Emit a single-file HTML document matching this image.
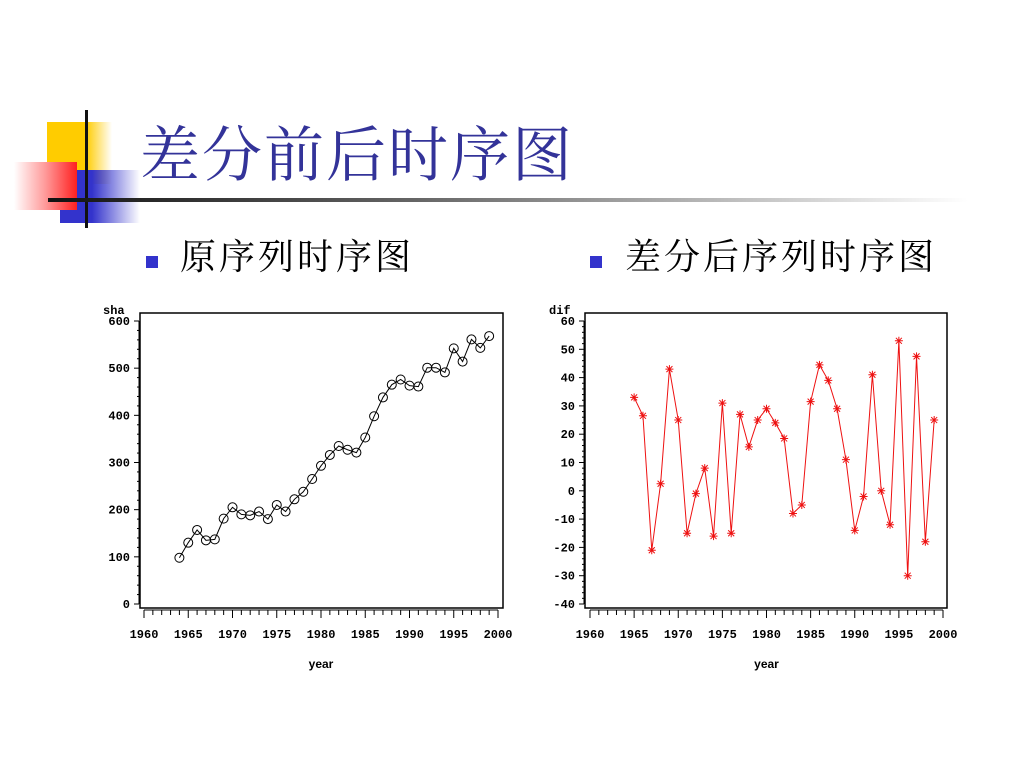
<!DOCTYPE html>
<html><head><meta charset="utf-8">
<style>
body{margin:0;width:1024px;height:768px;background:#fff;overflow:hidden;position:relative;font-family:"Liberation Sans","Noto Serif CJK SC",serif}
.abs{position:absolute}
</style></head><body>
<div class="abs" style="left:47px;top:122px;width:65px;height:62px;background:linear-gradient(90deg,#ffcc00 60%,#fff)"></div>
<div class="abs" style="left:60px;top:170px;width:80px;height:53px;background:linear-gradient(90deg,#3333cc 40%,rgba(51,51,204,0))"></div>
<div class="abs" style="left:14px;top:162px;width:63px;height:48px;background:linear-gradient(90deg,#fff 0%,#ff9999 50%,#ff2020 100%)"></div>
<div class="abs" style="left:85px;top:110px;width:3px;height:118px;background:#111"></div>
<div class="abs" style="left:48px;top:198px;width:920px;height:4px;background:linear-gradient(90deg,#111,#666 40%,#fff)"></div>
<div class="abs" style="left:140px;top:116px;font-size:60px;letter-spacing:2px;color:#333399;font-family:'Liberation Serif','Noto Serif CJK SC',serif;line-height:80px;white-space:nowrap">差分前后时序图</div>
<div class="abs" style="left:146px;top:256px;width:12px;height:12px;background:#3333cc"></div>
<div class="abs" style="left:180px;top:234px;font-size:36px;letter-spacing:3px;line-height:46px;white-space:nowrap;font-family:'Liberation Serif','Noto Serif CJK SC',serif">原序列时序图</div>
<div class="abs" style="left:590px;top:256px;width:12px;height:12px;background:#3333cc"></div>
<div class="abs" style="left:625px;top:234px;font-size:36px;letter-spacing:3px;line-height:46px;white-space:nowrap;font-family:'Liberation Serif','Noto Serif CJK SC',serif">差分后序列时序图</div>
<svg class="abs" style="left:0;top:0" width="1024" height="768" id="svg"></svg>
<script>
const years1=[1964,1965,1966,1967,1968,1969,1970,1971,1972,1973,1974,1975,1976,1977,1978,1979,1980,1981,1982,1983,1984,1985,1986,1987,1988,1989,1990,1991,1992,1993,1994,1995,1996,1997,1998,1999];
const sha=[98,130,157,135,137,181,205,190,188,196,180,210,196,222,238,265,293,316,335,327,321,353,398,438,465,476,463,461,501,501,491,542,514,561,543,568];
const years2=[1965,1966,1967,1968,1969,1970,1971,1972,1973,1974,1975,1976,1977,1978,1979,1980,1981,1982,1983,1984,1985,1986,1987,1988,1989,1990,1991,1992,1993,1994,1995,1996,1997,1998,1999];
const dif=[33,26.5,-21,2.5,43,25,-15,-1,8,-16,31,-15,27,15.5,25,29,24,18.5,-8,-5,31.5,44.5,39,29,11,-14,-2,41,0,-12,53,-30,47.5,-18,25];
const xTicks=[1960,1965,1970,1975,1980,1985,1990,1995,2000];
const yTicks1=[0,100,200,300,400,500,600];
const yTicks2=[-40,-30,-20,-10,0,10,20,30,40,50,60];
const svg=document.getElementById('svg');
const NS='http://www.w3.org/2000/svg';
function mk(t,a,p){const e=document.createElementNS(NS,t);for(const k in a)e.setAttribute(k,a[k]);(p||svg).appendChild(e);return e;}
function chart(cfg){
  const g=mk('g',{});
  
  
  const X=v=>cfg.x0+(v-1960)*(cfg.x1-cfg.x0)/40;
  const Y=v=>cfg.yb+(v-cfg.ymin)*(cfg.yt-cfg.yb)/(cfg.ymax-cfg.ymin);
  const box=mk('rect',{x:cfg.bx,y:313,width:cfg.bw,height:295,fill:'none',stroke:'#000','stroke-width':1.5},g);
  
  for(let yr=1960;yr<=2000;yr++){
    const l=mk('line',{x1:X(yr),x2:X(yr),y1:610,y2:yr%5==0?618:615,stroke:'#000','stroke-width':1},g);
    
  }
  mk('line',{x1:X(1960),x2:X(2000),y1:610,y2:610,stroke:'#000'},g);
  xTicks.forEach(v=>{const t=mk('text',{x:X(v),y:638,'text-anchor':'middle','font-size':12,'font-weight':'bold','font-family':'Liberation Mono,monospace'},g);t.textContent=v;
    });
  const step=(cfg.ymax-cfg.ymin)/((cfg.yTicks.length-1)*5);
  for(let v=cfg.ymin;v<=cfg.ymax+1e-9;v+=step){
    const major=Math.abs(((v-cfg.ymin)/step)%5)<1e-6;
    mk('line',{x1:cfg.bx-(major?6:3),x2:cfg.bx-1,y1:Y(v),y2:Y(v),stroke:'#000'},g);
  }
  mk('line',{x1:cfg.bx-1,x2:cfg.bx-1,y1:Y(cfg.ymin),y2:Y(cfg.ymax),stroke:'#000'},g);
  cfg.yTicks.forEach(v=>{const t=mk('text',{x:cfg.bx-10,y:Y(v)+4,'text-anchor':'end','font-size':12,'font-weight':'bold','font-family':'Liberation Mono,monospace'},g);t.textContent=v;
    });
  const yl=mk('text',{x:cfg.ylx,y:314,'font-size':12,'font-weight':'bold','font-family':'Liberation Mono,monospace'},g);yl.textContent=cfg.ylabel;
  
  const xl=mk('text',{x:(X(1960)+X(2000))/2,y:668,'text-anchor':'middle','font-size':12,'font-weight':'bold','font-family':'Liberation Sans,sans-serif'},g);xl.textContent='year';
  
  const pts=cfg.xs.map((x,i)=>X(x)+','+Y(cfg.ys[i])).join(' ');
  const pl=mk('polyline',{points:pts,fill:'none',stroke:cfg.color,'stroke-width':1},g);
  
  cfg.xs.forEach((x,i)=>{
    const cx=X(x),cy=Y(cfg.ys[i]);
    if(cfg.marker==='circle'){
      const c=mk('circle',{cx:cx,cy:cy,r:4.5,fill:'none',stroke:'#000','stroke-width':1},g);
      
    }else{
      const s=mk('path',{d:`M${cx-4},${cy}H${cx+4}M${cx},${cy-4}V${cy+4}M${cx-3},${cy-3}L${cx+3},${cy+3}M${cx-3},${cy+3}L${cx+3},${cy-3}`,stroke:cfg.color,'stroke-width':1},g);
      
    }
  });
}
chart({name:'original-series-chart',bx:140,bw:363,x0:144,x1:498,ymin:0,ymax:600,yb:604,yt:321,yTicks:yTicks1,xs:years1,ys:sha,color:'#000',marker:'circle',ylabel:'sha',ylx:103});
chart({name:'difference-series-chart',bx:585,bw:362,x0:590,x1:943,ymin:-40,ymax:60,yb:604,yt:321,yTicks:yTicks2,xs:years2,ys:dif,color:'#ee1111',marker:'star',ylabel:'dif',ylx:549});
</script>
</body></html>
